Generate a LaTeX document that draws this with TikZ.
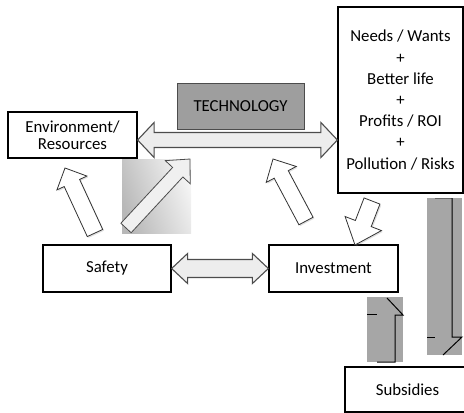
\documentclass[tikz,border=0pt]{standalone}
\usepackage{fontspec}
\setmainfont{Carlito}
\usetikzlibrary{calc,shadows}

% straight block arrow from tail #2 to tip #3
% #4 half shaft width, #5 half head width, #6 head length
\newcommand\blockarrow[6]{%
  \coordinate (ba-base) at ($(#3)!#6!(#2)$);
  \draw[#1] ($(#2)!#4!90:(#3)$) -- ($(ba-base)!#4!90:(#3)$)
    -- ($(ba-base)!#5!90:(#3)$) -- (#3)
    -- ($(ba-base)!#5!-90:(#3)$) -- ($(ba-base)!#4!-90:(#3)$)
    -- ($(#2)!#4!-90:(#3)$) -- cycle;}

% horizontal two-headed block arrow between #1 and #2
% #3 half shaft width, #4 half head width, #5 head length
\newcommand\dblarrow[5]{%
  \draw[twohead] let \p1=#1, \p2=#2 in
    (\x1,\y1) -- ({\x1+#5},{\y1+#4}) -- ({\x1+#5},{\y1+#3})
    -- ({\x2-#5},{\y1+#3}) -- ({\x2-#5},{\y1+#4}) -- (\x2,\y1)
    -- ({\x2-#5},{\y1-#4}) -- ({\x2-#5},{\y1-#3})
    -- ({\x1+#5},{\y1-#3}) -- ({\x1+#5},{\y1-#4}) -- cycle;}

\begin{document}
\begin{tikzpicture}[x=1pt,y=-1pt,
  font=\fontsize{16.8}{20}\selectfont,
  box/.style={draw=black, line width=1.2pt, fill=white, align=center, inner sep=0pt},
  techbox/.style={draw=black!70, line width=1pt, fill=black!38, inner sep=0pt},
  twohead/.style={draw=black!70, line width=1.1pt, fill=black!7, line join=miter},
  whitearrow/.style={draw=black!80, line width=0.8pt, fill=white,
    drop shadow={shadow xshift=1.3pt, shadow yshift=-1.3pt, opacity=0.25}},
  lightarrow/.style={draw=black!70, line width=0.8pt, fill=black!6},
  grayarrow/.style={fill=black!35},
  edge line/.style={draw=black, line width=1pt}]
\useasboundingbox (0,0) rectangle (464,413);

% boxes
\node[box, minimum width=129pt, minimum height=46pt,
      font=\fontsize{16.8}{17}\selectfont] (env) at (72.5,135) {Environment/\\Resources};
\node[techbox, minimum width=127pt, minimum height=46pt] (tech) at (240.5,106) {TECHNOLOGY};
\node[box, minimum width=125pt, minimum height=186pt,
      font=\fontsize{16.8}{21.2}\selectfont] (needs) at (400.5,100)
  {Needs / Wants\\+\\Better life\\+\\Profits / ROI\\+\\Pollution / Risks};
\node[box, minimum width=128pt, minimum height=47pt] (safety) at (107,268.5) {Safety};
\node[box, minimum width=129pt, minimum height=47pt] (invest) at (333.5,268.5) {Investment};
\node[box, minimum width=125pt, minimum height=45pt] (subs) at (407.5,389.5) {Subsidies};

% two-headed arrows
\coordinate (techaxis) at (240.5,140);
\dblarrow{(env.east |- techaxis)}{(needs.west |- techaxis)}{7.5pt}{17.5pt}{16.5pt}
\dblarrow{(safety.east)}{(invest.west)}{9pt}{15pt}{16pt}

% white block arrows
\coordinate (a1t) at (95,233);  \coordinate (a1h) at (65,168);
\coordinate (a2t) at (306,221); \coordinate (a2h) at (273,159);
\coordinate (a3t) at (372,201); \coordinate (a3h) at (355,245);
\blockarrow{whitearrow}{a1t}{a1h}{8.5pt}{16.5pt}{16.5pt}
\blockarrow{whitearrow}{a2t}{a2h}{8pt}{17pt}{17.5pt}
\blockarrow{whitearrow}{a3t}{a3h}{8.5pt}{19.5pt}{23pt}

% shaded panel with diagonal arrow
\shade[left color=black!28, right color=black!4, shading angle=110]
  (122,159) rectangle (191,233);
\coordinate (a4t) at (126,228); \coordinate (a4h) at (190,159);
\blockarrow{lightarrow}{a4t}{a4h}{7pt}{17pt}{18pt}

% tall gray arrow down to subsidies
\fill[grayarrow] (427,198) rectangle (462,355);
\draw[draw=black!60, line width=1pt] (435,198) -- (452,198);
\draw[edge line] (452,198) -- (452,337) -- (462,337) -- (443,355);
\draw[edge line] (427,337) -- (435,337);

% short gray arrow up from subsidies
\fill[grayarrow] (367,297) rectangle (403,362);
\draw[edge line] (367,314) -- (377,314);
\draw[edge line] (377,362) -- (395,362) -- (395,315) -- (403,315) -- (387,298);
\end{tikzpicture}
\end{document}
